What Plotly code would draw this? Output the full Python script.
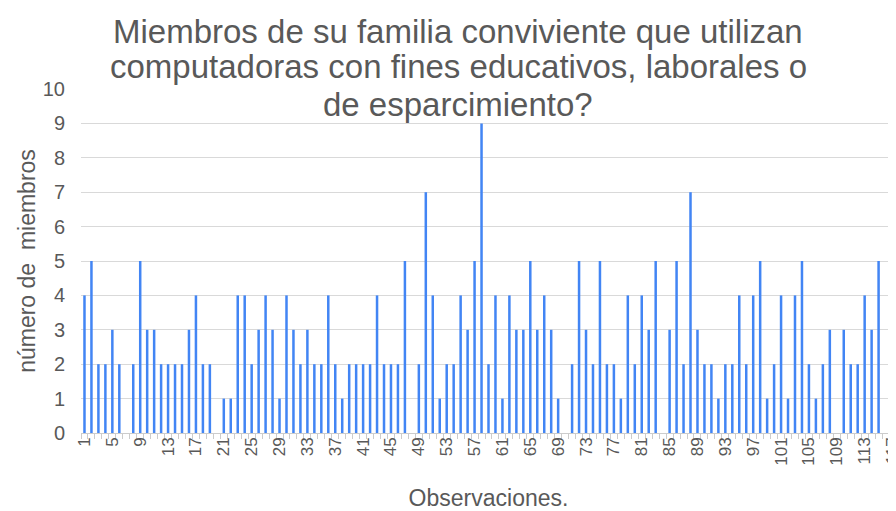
import plotly.graph_objects as go

observaciones = list(range(1, 118))
miembros = [
    4, 5, 2, 2, 3, 2, 0, 2, 5, 3, 3, 2, 2, 2, 2, 3, 4, 2, 2,
    0, 1, 1, 4, 4, 2, 3, 4, 3, 1, 4, 3, 2, 3, 2, 2, 4, 2, 1, 2,
    2, 2, 2, 4, 2, 2, 2, 5, 0, 2, 7, 4, 1, 2, 2, 4, 3, 5, 9, 2,
    4, 1, 4, 3, 3, 5, 3, 4, 3, 1, 0, 2, 5, 3, 2, 5, 2, 2, 1,
    4, 2, 4, 3, 5, 0, 3, 5, 2, 7, 3, 2, 2, 1, 2, 2, 4, 2, 4, 5,
    1, 2, 4, 1, 4, 5, 2, 1, 2, 3, 0, 3, 2, 2, 4, 3, 5, 0, 2,
]
x_tick_vals = list(range(1, 118, 4))
x_tick_text = [str(v) for v in x_tick_vals]
y_tick_vals = list(range(0, 11))

title_lines = [
    "Miembros de su familia conviviente que utilizan",
    "computadoras con fines educativos, laborales o",
    "de esparcimiento?",
]

FONT = "Liberation Sans, Arial, sans-serif"
GRAY = "#595959"

fig = go.Figure()
fig.add_trace(go.Bar(
    x=observaciones, y=miembros,
    marker=dict(color="#4285F4", line=dict(width=0)),
    width=0.36,
    hoverinfo="x+y",
))

# Title lines as annotations (tight line spacing as in the reference)
title_y = [1.166, 1.066, 0.956]
for line, yy in zip(title_lines, title_y):
    fig.add_annotation(
        text=line, xref="paper", yref="paper",
        x=0.4626, y=yy, xanchor="center", yanchor="middle",
        showarrow=False,
        font=dict(family=FONT, size=33, color=GRAY),
    )

fig.update_layout(
    width=896, height=511,
    margin=dict(l=73, r=8, t=81, b=86, autoexpand=False),
    paper_bgcolor="white", plot_bgcolor="white",
    showlegend=False,
    font=dict(family=FONT, color=GRAY),
    xaxis=dict(
        range=[0.5, 117.5],
        tickmode="array", tickvals=x_tick_vals, ticktext=x_tick_text,
        tickangle=-90,
        tickfont=dict(size=17, color=GRAY),
        ticks="", showgrid=False, zeroline=False,
        showline=False,
        minor=dict(ticks="outside", tickmode="linear", tick0=0.5, dtick=1,
                   ticklen=5, tickcolor="#cccccc", tickwidth=1, showgrid=False),
        title=dict(text="Observaciones.", font=dict(size=23, color=GRAY), standoff=25),
        fixedrange=True,
    ),
    yaxis=dict(
        range=[0, 10],
        tickmode="array", tickvals=y_tick_vals,
        tickfont=dict(size=20, color=GRAY),
        ticklabelstandoff=15,
        showgrid=True, gridcolor="#d9d9d9", gridwidth=1,
        zeroline=True, zerolinecolor="#cccccc", zerolinewidth=1,
        showline=False, ticks="",
        title=dict(text="número de  miembros", font=dict(size=23, color=GRAY), standoff=0),
        fixedrange=True,
    ),
)

fig.write_html("out.html")
